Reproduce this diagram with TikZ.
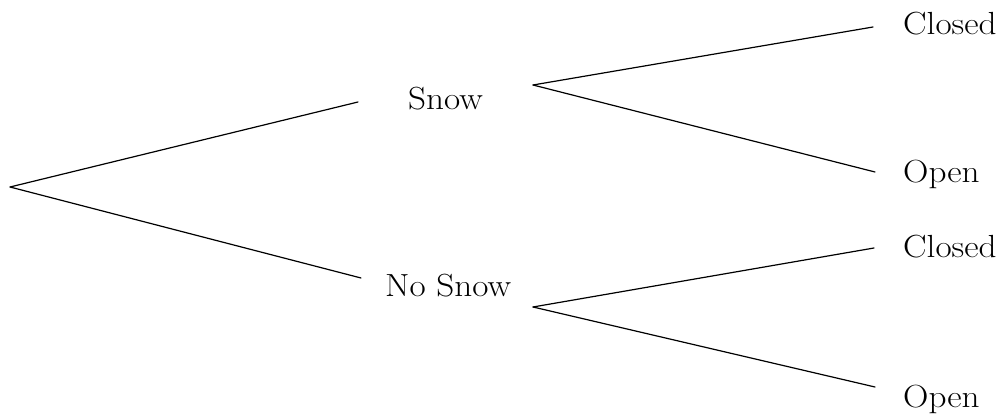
\documentclass[tikz,border=0pt]{standalone}
\newcommand{\widetxt}[1]{\scalebox{1.1}[1]{#1}}
\begin{document}
\begin{tikzpicture}[x=1pt,y=-1pt,
  branch/.style={line width=1.2pt, line cap=round},
  lbl/.style={anchor=base west, inner sep=0pt, font=\fontsize{32}{38}\selectfont}]
\useasboundingbox (0,0) rectangle (1005,414);
% labels
\node[lbl] (snow) at (408,110) {\widetxt{Snow}};
\node[lbl] (nosnow) at (385,297) {\widetxt{No Snow}};
\node[lbl] (closedA) at (903,35) {\widetxt{Closed}};
\node[lbl] (openA) at (903,183) {\widetxt{Open}};
\node[lbl] (closedB) at (903,258) {\widetxt{Closed}};
\node[lbl] (openB) at (903,407) {\widetxt{Open}};
% branch end points
\coordinate (root) at (10,187);
\coordinate (snowIn) at (358,102);
\coordinate (snowOut) at (533,85);
\coordinate (nosnowIn) at (361,278);
\coordinate (nosnowOut) at (533,307);
\coordinate (closedAIn) at (873,27);
\coordinate (openAIn) at (875,172);
\coordinate (closedBIn) at (874,248);
\coordinate (openBIn) at (875,387);
% connectors
\draw[branch] (root) -- (snowIn);
\draw[branch] (root) -- (nosnowIn);
\draw[branch] (snowOut) -- (closedAIn);
\draw[branch] (snowOut) -- (openAIn);
\draw[branch] (nosnowOut) -- (closedBIn);
\draw[branch] (nosnowOut) -- (openBIn);
\end{tikzpicture}
\end{document}
